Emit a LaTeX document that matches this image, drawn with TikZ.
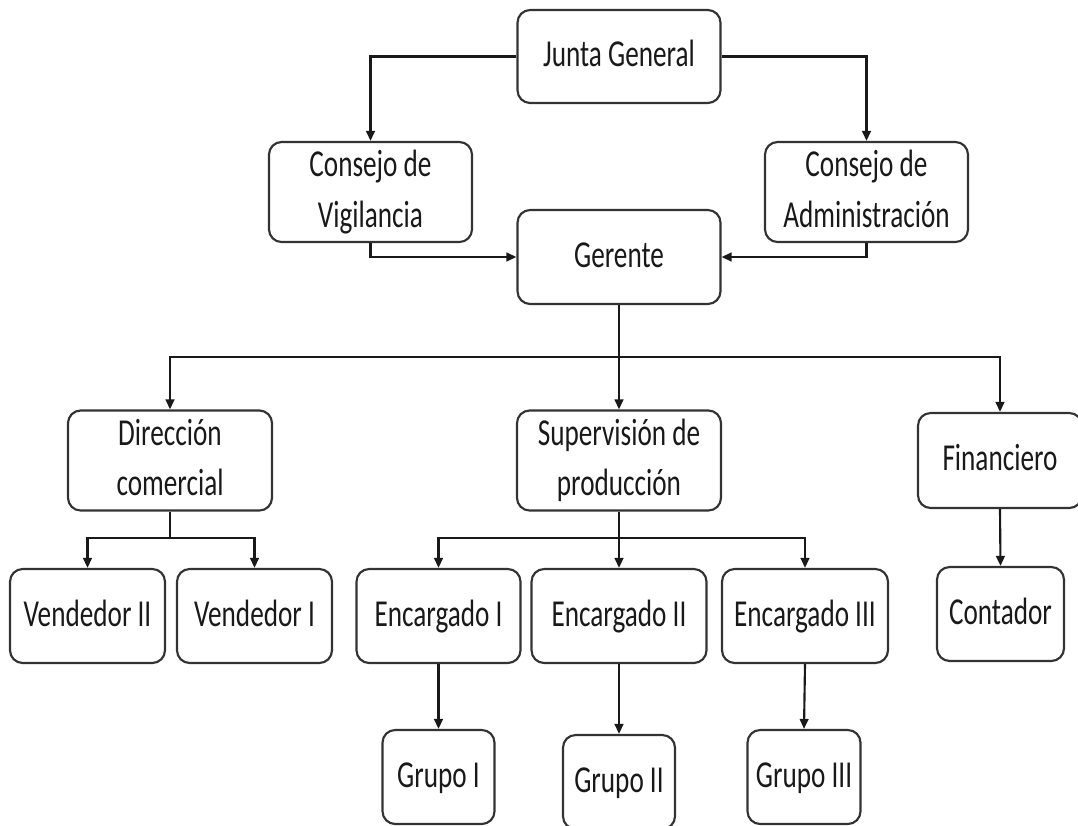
\documentclass[tikz,border=0pt]{standalone}
\usepackage{fontspec}
\setmainfont{Carlito}
\usepackage{graphicx}
\usetikzlibrary{arrows.meta}
% box labels: centred lines, stretched a little in height
\newcommand\boxtext[1]{\scalebox{1}[1.4]{\begin{tabular}{@{}c@{}}#1\end{tabular}}}

\begin{document}
\begin{tikzpicture}[x=0.75pt,y=-0.75pt,
  unit box/.style 2 args={draw=black!80, line width=1.6pt, rounded corners=9.5pt,
    minimum width=#1*0.75pt, minimum height=#2*0.75pt, inner sep=0pt,
    font=\fontsize{20.4}{26.8}\selectfont, text=black!90},
  link/.style={line width=1.6pt, draw=black!90},
  arrow/.style={link, -{Triangle[length=7.5pt,width=6.5pt]}}]
\useasboundingbox (0,0) rectangle (1078,825);
\fill[white] (0,0) rectangle (1078,825);

% top level
\node[unit box={203}{93}] (junta) at (619,56.5) {\boxtext{Junta General}};
\node[unit box={203}{94}] (vig) at (370.5,192) {\boxtext{Consejo de\\Vigilancia}};
\node[unit box={203}{94}] (adm) at (866.5,192) {\boxtext{Consejo de\\Administración}};
\node[unit box={203}{94}] (ger) at (619,257) {\boxtext{Gerente}};

% departments
\node[unit box={204}{95}] (dir) at (170,460.5) {\boxtext{Dirección\\comercial}};
\node[unit box={204}{95}] (sup) at (619,460.5) {\boxtext{Supervisión de\\producción}};
\node[unit box={164}{95}] (fin) at (1000,460.5) {\boxtext{Financiero}};

% staff
\node[unit box={155}{94}] (v2) at (87.5,616) {\boxtext{Vendedor II}};
\node[unit box={155}{94}] (v1) at (254.5,616) {\boxtext{Vendedor I}};
\node[unit box={164}{94}] (e1) at (438.5,616) {\boxtext{Encargado I}};
\node[unit box={175}{94}] (e2) at (619,616) {\boxtext{Encargado II}};
\node[unit box={166}{94}] (e3) at (805,616) {\boxtext{Encargado III}};
\node[unit box={127}{94}] (con) at (1000.5,614) {\boxtext{Contador}};

% groups
\node[unit box={112}{94}] (g1) at (438.5,777) {\boxtext{Grupo I}};
\node[unit box={112}{94}] (g2) at (619,782) {\boxtext{Grupo II}};
\node[unit box={113}{94}] (g3) at (804,777) {\boxtext{Grupo III}};

% bus points
\coordinate (bus) at (619,357);
\coordinate (dbus) at (170,538);
\coordinate (sbus) at (619,538);

% connectors
\draw[arrow] (junta.west) -| (vig.north);
\draw[arrow] (junta.east) -| (adm.north);
\draw[arrow] (vig.south) |- (ger.west);
\draw[arrow] (adm.south) |- (ger.east);

\draw[arrow] (ger.south) -- (sup.north);
\draw[arrow] (bus) -| (dir.north);
\draw[arrow] (bus) -| (fin.north);

\draw[link] (dir.south) -- (dbus);
\draw[arrow] (dbus) -| (v2.north);
\draw[arrow] (dbus) -| (v1.north);

\draw[arrow] (sup.south) -- (e2.north);
\draw[arrow] (sbus) -| (e1.north);
\draw[arrow] (sbus) -| (e3.north);

\draw[arrow] (fin.south) -- (con.north);

\draw[arrow] (e1.south) -- (g1.north);
\draw[arrow] (e2.south) -- (g2.north);
\draw[arrow] (e3.south) -- (g3.north);
\end{tikzpicture}
\end{document}
